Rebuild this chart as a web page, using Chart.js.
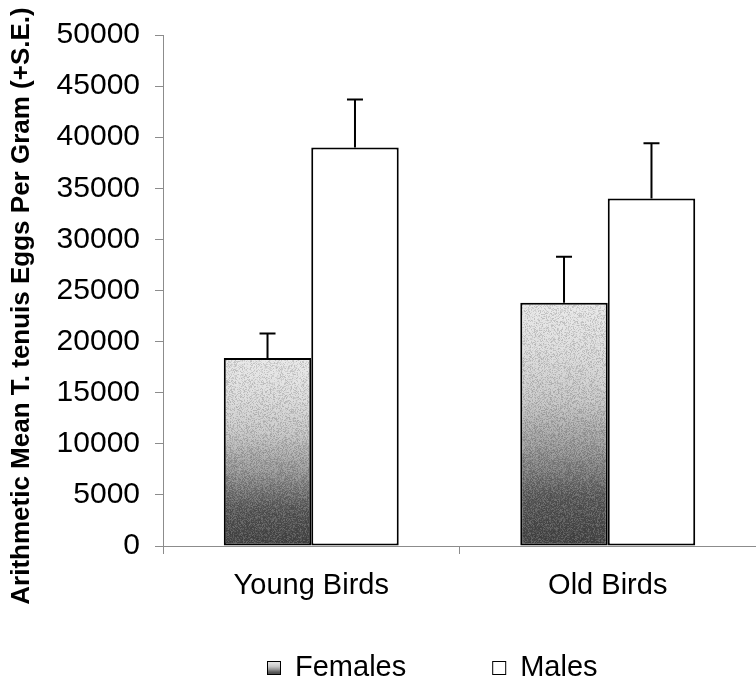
<!DOCTYPE html>
<html>
<head>
<meta charset="utf-8">
<script src="https://cdn.jsdelivr.net/npm/chart.js@4.4.0/dist/chart.umd.min.js"></script>
<style>
    html, body { margin: 0; padding: 0; background: #fff; }
    #wrap { width: 756px; height: 685px; }
</style>
</head>
<body>
<div id="wrap"><canvas id="eggs-chart"></canvas></div>
<script>
// group means and standard errors (eggs per gram)
var groups = ['Young Birds', 'Old Birds'];
var femaleMeans = [18400, 23800];
var femaleSE = [2400, 4500];
var maleMeans = [39000, 34000];
var maleSE = [4700, 5400];
var seriesNames = ['Females', 'Males'];
var yMin = 0, yMax = 50000, yStep = 5000;
var yTitle = 'Arithmetic Mean T. tenuis Eggs Per Gram (+S.E.)';

var FONT = '"Liberation Sans", Arial, sans-serif';
var AXIS_GREY = '#8c8c8c';

// shaded fill: dark at the base fading to light grey at the top of each bar
function shadeStops(g) {
    g.addColorStop(0, '#444444');
    g.addColorStop(0.2, '#5a5a5a');
    g.addColorStop(0.4, '#979797');
    g.addColorStop(0.6, '#c6c6c6');
    g.addColorStop(0.8, '#dcdcdc');
    g.addColorStop(1, '#e8e8e8');
    return g;
}

function femaleFill(context) {
    var chart = context.chart;
    if (!chart.chartArea || context.dataIndex === undefined) {
        return '#9a9a9a';
    }
    var y = chart.scales.y;
    var base = y.getPixelForValue(0);
    var top = y.getPixelForValue(context.raw);
    return shadeStops(chart.ctx.createLinearGradient(0, base, 0, top));
}

// small speckle tile laid over the shaded bars
var grainTile = (function () {
    var size = 96;
    var c = document.createElement('canvas');
    c.width = c.height = size;
    var g = c.getContext('2d');
    var img = g.createImageData(size, size);
    var seed = 7919;
    function next() {
        seed = (seed * 1103515245 + 12345) & 0x7fffffff;
        return seed / 0x7fffffff;
    }
    for (var p = 0; p < size * size; p++) {
        var v = next();
        var shade = v < 0.5 ? 0 : 255;
        img.data[p * 4] = shade;
        img.data[p * 4 + 1] = shade;
        img.data[p * 4 + 2] = shade;
        img.data[p * 4 + 3] = Math.round(Math.abs(v - 0.5) * 2 * 45);
    }
    g.putImageData(img, 0, 0);
    return c;
})();

// grain on the female bars, then the +S.E. whiskers
var errorBars = {
    id: 'errorBars',
    afterDatasetsDraw: function (chart) {
        var ctx = chart.ctx;
        var y = chart.scales.y;
        var pattern = ctx.createPattern(grainTile, 'repeat');
        chart.getDatasetMeta(0).data.forEach(function (bar) {
            ctx.save();
            ctx.fillStyle = pattern;
            ctx.fillRect(bar.x - bar.width / 2 + 2, bar.y + 2, bar.width - 4, bar.base - bar.y - 4);
            ctx.restore();
        });
        chart.data.datasets.forEach(function (ds, i) {
            chart.getDatasetMeta(i).data.forEach(function (bar, j) {
                var top = y.getPixelForValue(ds.data[j] + ds.se[j]);
                ctx.save();
                ctx.strokeStyle = '#000';
                ctx.lineWidth = 2;
                ctx.beginPath();
                ctx.moveTo(bar.x, bar.y);
                ctx.lineTo(bar.x, top);
                ctx.moveTo(bar.x - 8, top);
                ctx.lineTo(bar.x + 8, top);
                ctx.stroke();
                ctx.restore();
            });
        });
    }
};

// rotated y title, spanning most of the canvas height
var sideTitle = {
    id: 'sideTitle',
    afterDraw: function (chart) {
        var ctx = chart.ctx;
        ctx.save();
        ctx.translate(22, 306);
        ctx.rotate(-Math.PI / 2);
        ctx.font = 'bold 26px ' + FONT;
        ctx.fillStyle = '#000';
        ctx.textAlign = 'center';
        ctx.textBaseline = 'middle';
        ctx.fillText(yTitle, 0, 0);
        ctx.restore();
    }
};

// legend row under the category labels
var bottomLegend = {
    id: 'bottomLegend',
    afterDraw: function (chart) {
        var ctx = chart.ctx;
        var x = 267, yMid = 668, box = 14;
        ctx.save();
        ctx.font = '29px ' + FONT;
        ctx.textBaseline = 'middle';
        seriesNames.forEach(function (name, i) {
            var bx = x, by = yMid - box / 2;
            if (i === 0) {
                ctx.fillStyle = shadeStops(ctx.createLinearGradient(0, by + box, 0, by));
            } else {
                ctx.fillStyle = '#fff';
            }
            ctx.fillRect(bx, by, box, box);
            ctx.strokeStyle = '#000';
            ctx.lineWidth = 1;
            ctx.strokeRect(bx + 0.5, by + 0.5, box - 1, box - 1);
            ctx.fillStyle = '#000';
            ctx.fillText(name, bx + box + 14, yMid);
            x = bx + box + 14 + ctx.measureText(name).width + 86;
        });
        ctx.restore();
    }
};

var ctx = document.getElementById('eggs-chart').getContext('2d');

new Chart(ctx, {
    type: 'bar',
    data: {
        labels: groups,
        datasets: [{
            label: seriesNames[0],
            data: femaleMeans,
            se: femaleSE,
            backgroundColor: femaleFill,
            borderColor: '#000',
            borderWidth: 2,
            borderSkipped: false
        }, {
            label: seriesNames[1],
            data: maleMeans,
            se: maleSE,
            backgroundColor: '#fff',
            borderColor: '#000',
            borderWidth: 2,
            borderSkipped: false
        }]
    },
    options: {
        responsive: true,
        maintainAspectRatio: false,
        animation: false,
        layout: {
            padding: { top: 35, right: 0, bottom: 0, left: 0 }
        },
        datasets: {
            bar: {
                categoryPercentage: 0.59,
                barPercentage: 1.0
            }
        },
        scales: {
            x: {
                afterFit: function (scale) { scale.height = 139; },
                border: { color: AXIS_GREY, width: 1 },
                grid: {
                    display: true,
                    drawOnChartArea: false,
                    drawTicks: true,
                    tickLength: 8,
                    color: AXIS_GREY
                },
                ticks: {
                    color: '#000',
                    padding: 15,
                    font: { family: FONT, size: 29 }
                }
            },
            y: {
                min: yMin,
                max: yMax,
                afterFit: function (scale) { scale.width = 163; },
                border: { color: AXIS_GREY, width: 1 },
                grid: {
                    display: true,
                    drawOnChartArea: false,
                    drawTicks: true,
                    tickLength: 8,
                    color: AXIS_GREY
                },
                ticks: {
                    stepSize: yStep,
                    color: '#000',
                    padding: 15,
                    font: { family: FONT, size: 30 },
                    callback: function (v) { return String(v); }
                }
            }
        },
        plugins: {
            legend: { display: false },
            tooltip: { enabled: false }
        }
    },
    plugins: [errorBars, sideTitle, bottomLegend]
});
</script>
</body>
</html>
